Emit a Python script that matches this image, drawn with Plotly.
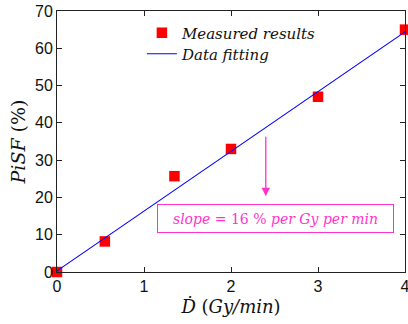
import plotly.graph_objects as go

dose_rate = [0, 0.55, 1.35, 2.0, 3.0, 4.0]
pisf = [0, 8.2, 25.7, 33.0, 47.0, 65.0]
fit_x = [0, 4]
fit_y = [0.3, 64.4]
x_ticks = [0, 1, 2, 3, 4]
y_ticks = [0, 10, 20, 30, 40, 50, 60, 70]
arrow_x = 2.4
arrow_y_start = 36.7
arrow_y_end = 20.3

serif = "DejaVu Serif"
sans = "Liberation Sans, Arial, sans-serif"
magenta = "#ff33cc"

fig = go.Figure()
fig.add_trace(go.Scatter(
    x=dose_rate, y=pisf, mode="markers", name="<i>Measured results</i>",
    marker=dict(symbol="square", size=10.5, color="#ff0000", line=dict(width=0)),
    cliponaxis=False, legend="legend",
))
fig.add_trace(go.Scatter(
    x=fit_x, y=fit_y, mode="lines", name="<i>Data fitting</i>",
    line=dict(color="#0000ff", width=1.1), legend="legend2",
))

fig.add_annotation(
    x=arrow_x, y=arrow_y_end, ax=arrow_x, ay=arrow_y_start,
    xref="x", yref="y", axref="x", ayref="y",
    text="", showarrow=True, arrowhead=2, arrowsize=1.3, arrowwidth=1.3,
    arrowcolor=magenta,
)
fig.add_annotation(
    x=2.51, y=14.3, xref="x", yref="y",
    text="<i>slope</i> = 16 % <i>per Gy per min</i>",
    showarrow=False, font=dict(family=serif, size=14, color=magenta),
    bordercolor=magenta, borderwidth=1, borderpad=4, bgcolor="white",
    width=227, height=19,
)

axis_common = dict(
    showgrid=False, zeroline=False, showline=True, linecolor="#222",
    linewidth=1, mirror="ticks", ticks="inside", ticklen=5, tickcolor="#222",
    tickfont=dict(family=sans, size=16, color="#111"),
    ticklabeloverflow="allow", automargin=False,
)
fig.update_xaxes(
    range=[0, 4], tickvals=x_ticks, ticktext=[str(t) for t in x_ticks],
    title=dict(text="<i>Ḋ</i> (<i>Gy/min</i>)", font=dict(family=serif, size=18, color="#111"), standoff=6),
    **axis_common,
)
fig.update_yaxes(
    range=[0, 70], tickvals=y_ticks, ticktext=[str(t) for t in y_ticks],
    title=dict(text="<i>PiSF</i> (%)", font=dict(family=serif, size=19, color="#111"), standoff=4),
    **axis_common,
)

legend_common = dict(
    xanchor="left", yanchor="middle", bgcolor="rgba(0,0,0,0)", borderwidth=0,
    font=dict(family=serif, size=15, color="#111"),
)
fig.update_layout(
    width=408, height=324,
    margin=dict(l=57, r=3, t=11, b=52),
    paper_bgcolor="white", plot_bgcolor="white",
    legend=dict(x=0.244, y=0.916, **legend_common),
    legend2=dict(x=0.244, y=0.835, **legend_common),
    showlegend=True,
)

fig.write_html(
    "out.html",
    config={"displayModeBar": False},
    post_script="document.body.style.margin='0';document.body.style.overflow='hidden';",
)
